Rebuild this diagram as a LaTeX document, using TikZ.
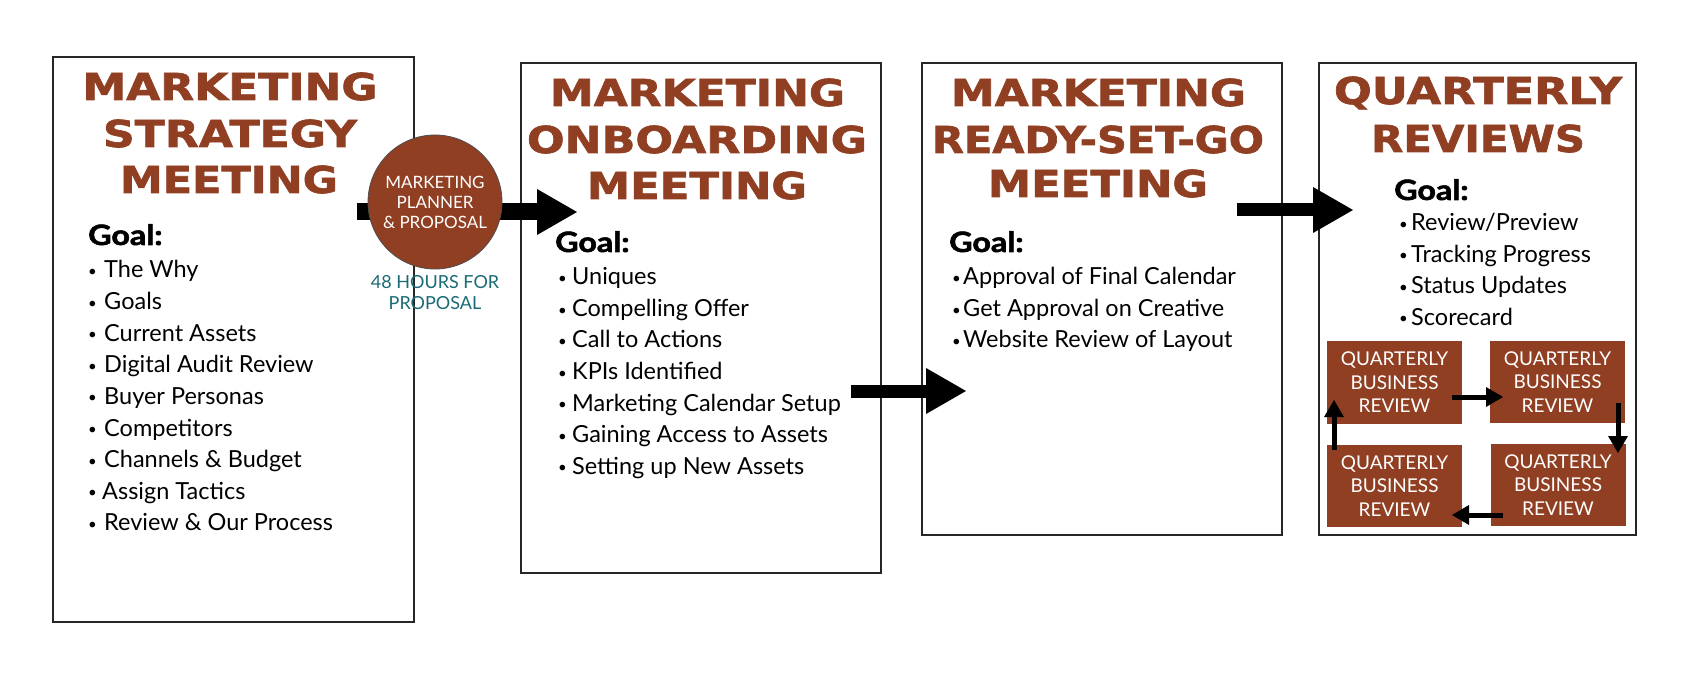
\documentclass[tikz,border=0pt]{standalone}
\usepackage{fontspec}
\setmainfont{Lato}
\newfontfamily\ttlfont{DejaVu Sans}[BoldFeatures={FakeBold=1.6}]
\newfontfamily\goalfont{Lato}[BoldFeatures={FakeBold=1.8}]
\usepackage{graphicx}
\usetikzlibrary{arrows.meta}
\definecolor{brn}{RGB}{145,63,35}
\definecolor{tealc}{RGB}{26,107,118}
\newcommand{\ttlline}[2]{\resizebox{#1pt}{27.5pt}{\ttlfont\bfseries #2}}
\newcommand{\bul}[1]{\makebox[#1pt][l]{\hspace{1pt}\raisebox{1.5pt}{\fontsize{15}{15}\selectfont\textbullet}}}
\begin{document}
\begin{tikzpicture}[x=1pt,y=-1pt,
 panel/.style={draw=black!85,line width=2pt,fill=white,anchor=north west,inner sep=0pt},
 ttl/.style={anchor=base,inner sep=0pt,text=brn},
 goal/.style={anchor=base west,inner sep=0pt,font=\fontsize{28}{28}\selectfont\goalfont\bfseries},
 item/.style={anchor=base west,inner sep=0pt,font=\fontsize{23.5}{23.5}\selectfont},
 bigarrow/.style={line width=#1,-{Triangle[length=40pt,width=46pt,line width=0pt]}},
 smallarrow/.style={line width=5pt,-{Triangle[length=17pt,width=20pt,line width=0pt]}},
 qbox/.style={fill=brn,minimum width=135pt,minimum height=82pt,inner sep=0pt,text=white,align=center,font=\fontsize{19}{23.5}\selectfont}
]
\useasboundingbox (0,0) rectangle (1699,684);
\fill[white] (0,0) rectangle (1699,684);

% panels
\node[panel,minimum width=361pt,minimum height=565pt] (p1) at (52,56) {};
\node[panel,minimum width=360pt,minimum height=510pt] (p2) at (520,62) {};
\node[panel,minimum width=360pt,minimum height=472pt] (p3) at (921,62) {};
\node[panel,minimum width=317pt,minimum height=472pt] (p4) at (1318,62) {};

% titles
\node[ttl] (t1a) at (230,100) {\ttlline{295}{MARKETING}};
\node[ttl] (t1b) at (230,147) {\ttlline{254}{STRATEGY}};
\node[ttl] (t1c) at (229,193) {\ttlline{218}{MEETING}};

\node[ttl] (t2a) at (697.5,106) {\ttlline{295}{MARKETING}};
\node[ttl] (t2b) at (697,153) {\ttlline{340}{ONBOARDING}};
\node[ttl] (t2c) at (697,199) {\ttlline{220}{MEETING}};

\node[ttl] (t3a) at (1098.5,106) {\ttlline{295}{MARKETING}};
\node[ttl] (t3b) at (1098,153) {\ttlline{332}{READY-SET-GO}};
\node[ttl] (t3c) at (1098,197) {\ttlline{220}{MEETING}};

\node[ttl] (t4a) at (1478,104) {\ttlline{288}{QUARTERLY}};
\node[ttl] (t4b) at (1478,152) {\ttlline{214}{REVIEWS}};

% goals
\node[goal] (g1) at (88,245) {\scalebox{1.15}[1]{Goal:}};
\node[goal] (g2) at (555,252) {\scalebox{1.15}[1]{Goal:}};
\node[goal] (g3) at (949,252) {\scalebox{1.15}[1]{Goal:}};
\node[goal] (g4) at (1394,200) {\scalebox{1.15}[1]{Goal:}};

% box 1 items
\node[item] (i11) at (87,278) {\bul{17}The Why};
\node[item] (i12) at (87,309.6) {\bul{17}Goals};
\node[item] (i13) at (87,341.2) {\bul{17}Current Assets};
\node[item] (i14) at (87,372.8) {\bul{17}Digital Audit Review};
\node[item] (i15) at (87,404.4) {\bul{17}Buyer Personas};
\node[item] (i16) at (87,436) {\bul{17}Competitors};
\node[item] (i17) at (87,467.6) {\bul{17}Channels \& Budget};
\node[item] (i18) at (87,499.2) {\bul{15}Assign Tactics};
\node[item] (i19) at (87,530.8) {\bul{17}Review \& Our Process};

% box 2 items
\node[item] (i21) at (557,285) {\bul{15}Uniques};
\node[item] (i22) at (557,316.5) {\bul{15}Compelling Offer};
\node[item] (i23) at (557,348) {\bul{15}Call to Actions};
\node[item] (i24) at (557,379.5) {\bul{15}KPIs Identified};
\node[item] (i25) at (557,411) {\bul{15}Marketing Calendar Setup};
\node[item] (i26) at (557,442.5) {\bul{15}Gaining Access to Assets};
\node[item] (i27) at (557,474) {\bul{15}Setting up New Assets};

% box 3 items
\node[item] (i31) at (951,285) {\bul{12}Approval of Final Calendar};
\node[item] (i32) at (951,316.5) {\bul{12}Get Approval on Creative};
\node[item] (i33) at (951,348) {\bul{12}Website Review of Layout};

% box 4 items
\node[item] (i41) at (1398,231) {\bul{13}Review/Preview};
\node[item] (i42) at (1398,262.5) {\bul{13}Tracking Progress};
\node[item] (i43) at (1398,294) {\bul{13}Status Updates};
\node[item] (i44) at (1398,325.5) {\bul{13}Scorecard};

% big arrows
\coordinate (a1s) at (357,212);
\coordinate (a1e) at (577,212);
\draw[bigarrow=17pt] (a1s) -- (a1e);
\coordinate (a2s) at (851,391);
\coordinate (a2e) at (966,391);
\draw[bigarrow=13pt] (a2s) -- (a2e);
\coordinate (a3s) at (1237,210);
\coordinate (a3e) at (1353,210);
\draw[bigarrow=13pt] (a3s) -- (a3e);

% circle
\node[circle,fill=brn,draw=black!70,line width=0.8pt,minimum size=134pt,inner sep=0pt,
  text=white,align=center,font=\fontsize{17}{20}\selectfont] (cir) at (435,202)
  {MARKETING\\PLANNER\\\& PROPOSAL};
\node[text=tealc,align=center,inner sep=0pt,font=\fontsize{18}{21}\selectfont] (hrs) at (435,292.5)
  {48 HOURS FOR\\PROPOSAL};

% quarterly boxes
\node[qbox] (qtl) at (1394.5,382.5) {QUARTERLY\\BUSINESS\\REVIEW};
\node[qbox] (qtr) at (1557.5,382) {QUARTERLY\\BUSINESS\\REVIEW};
\node[qbox] (qbl) at (1394.5,486) {QUARTERLY\\BUSINESS\\REVIEW};
\node[qbox] (qbr) at (1558,485) {QUARTERLY\\BUSINESS\\REVIEW};

\coordinate (s1) at (1452,397); \coordinate (e1) at (1503,397);
\coordinate (s2) at (1618,403); \coordinate (e2) at (1618,453);
\coordinate (s3) at (1503,515); \coordinate (e3) at (1452,515);
\coordinate (s4) at (1334,450); \coordinate (e4) at (1334,400);
\draw[smallarrow] (s1) -- (e1);
\draw[smallarrow] (s2) -- (e2);
\draw[smallarrow] (s3) -- (e3);
\draw[smallarrow] (s4) -- (e4);
\end{tikzpicture}
\end{document}
